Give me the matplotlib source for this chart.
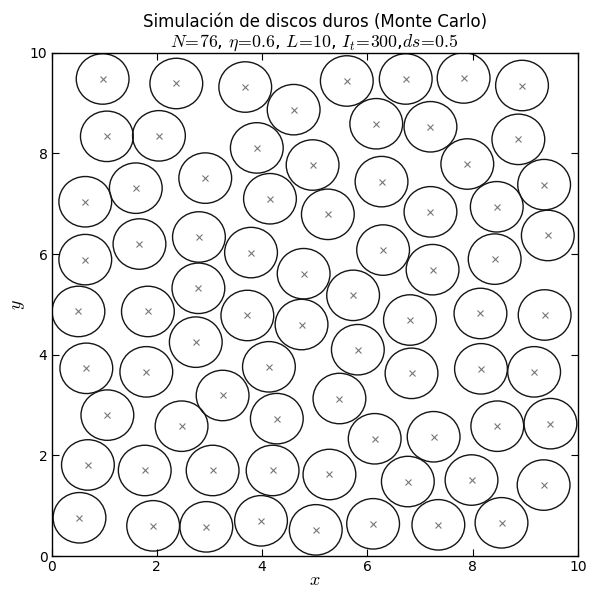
import numpy as np
import matplotlib
matplotlib.use("Agg")
import matplotlib.pyplot as plt
from matplotlib.patches import Circle

plt.rcParams['mathtext.fontset'] = 'cm'

# parametros de la simulacion
N = 76
eta = 0.6
L = 10
It = 300
ds = 0.5

# posiciones finales de los discos
x_pos = [0.97, 2.37, 3.68, 4.60, 1.05, 2.04, 3.90, 4.96, 2.92, 1.60,
         0.64, 4.15, 1.67, 2.80, 3.79, 0.64, 2.79, 4.79, 5.61, 6.73,
         7.83, 8.94, 6.17, 7.20, 8.87, 7.90, 6.27, 9.36, 5.25, 7.20,
         8.46, 9.43, 6.30, 7.24, 8.42, 5.73, 0.51, 1.83, 3.72, 4.75,
         2.74, 0.66, 1.80, 4.13, 3.25, 1.06, 2.47, 4.28, 0.69, 1.77,
         3.06, 4.20, 0.53, 1.93, 2.94, 3.98, 5.02, 6.81, 8.15, 9.37,
         5.82, 6.84, 8.16, 9.17, 5.47, 6.14, 7.26, 8.47, 9.48, 5.28,
         6.77, 7.98, 9.35, 6.11, 7.35, 8.55]
y_pos = [9.48, 9.39, 9.32, 8.87, 8.34, 8.35, 8.11, 7.77, 7.51, 7.31,
         7.04, 7.10, 6.20, 6.34, 6.03, 5.89, 5.32, 5.61, 9.44, 9.48,
         9.50, 9.35, 8.59, 8.53, 8.28, 7.79, 7.44, 7.38, 6.79, 6.84,
         6.94, 6.37, 6.08, 5.69, 5.90, 5.18, 4.86, 4.86, 4.78, 4.60,
         4.25, 3.73, 3.66, 3.76, 3.19, 2.80, 2.58, 2.73, 1.81, 1.70,
         1.70, 1.70, 0.76, 0.60, 0.58, 0.70, 0.52, 4.69, 4.82, 4.79,
         4.10, 3.63, 3.72, 3.66, 3.13, 2.33, 2.37, 2.58, 2.63, 1.62,
         1.48, 1.51, 1.41, 0.64, 0.62, 0.66]

# radio a partir de la fraccion de empaquetamiento
r = np.sqrt(eta * L**2 / (N * np.pi))

fig = plt.figure(figsize=(6, 6), dpi=100)
ax = fig.add_axes([0.086, 0.0733, 0.877, 0.8387])

for xc, yc in zip(x_pos, y_pos):
    ax.add_patch(Circle((xc, yc), r, fill=False, edgecolor='#151515', linewidth=1.0))
ax.plot(x_pos, y_pos, 'x', color='#777777', markersize=5, markeredgewidth=0.8)

ax.set_xlim(0, L)
ax.set_ylim(0, L)
ax.set_xticks(range(0, 11, 2))
ax.set_yticks(range(0, 11, 2))
ax.tick_params(direction='in', top=True, right=True, length=5, labelsize=10, pad=3)
for s in ax.spines.values():
    s.set_linewidth(1.0)

ax.set_xlabel('$x$', fontsize=13, labelpad=-2)
ax.set_ylabel('$y$', fontsize=13, labelpad=2)
ax.set_title(r'$N\!=\!76$, $\eta\!=\!0.6$, $L\!=\!10$, $I_t\!=\!300$,$ds\!=\!0.5$', fontsize=12.8, pad=4)
ax.text(0.5, 1.062, 'Simulación de discos duros (Monte Carlo)', transform=ax.transAxes,
        ha='center', va='center', fontsize=12)

fig.savefig('out.png', dpi=100)
